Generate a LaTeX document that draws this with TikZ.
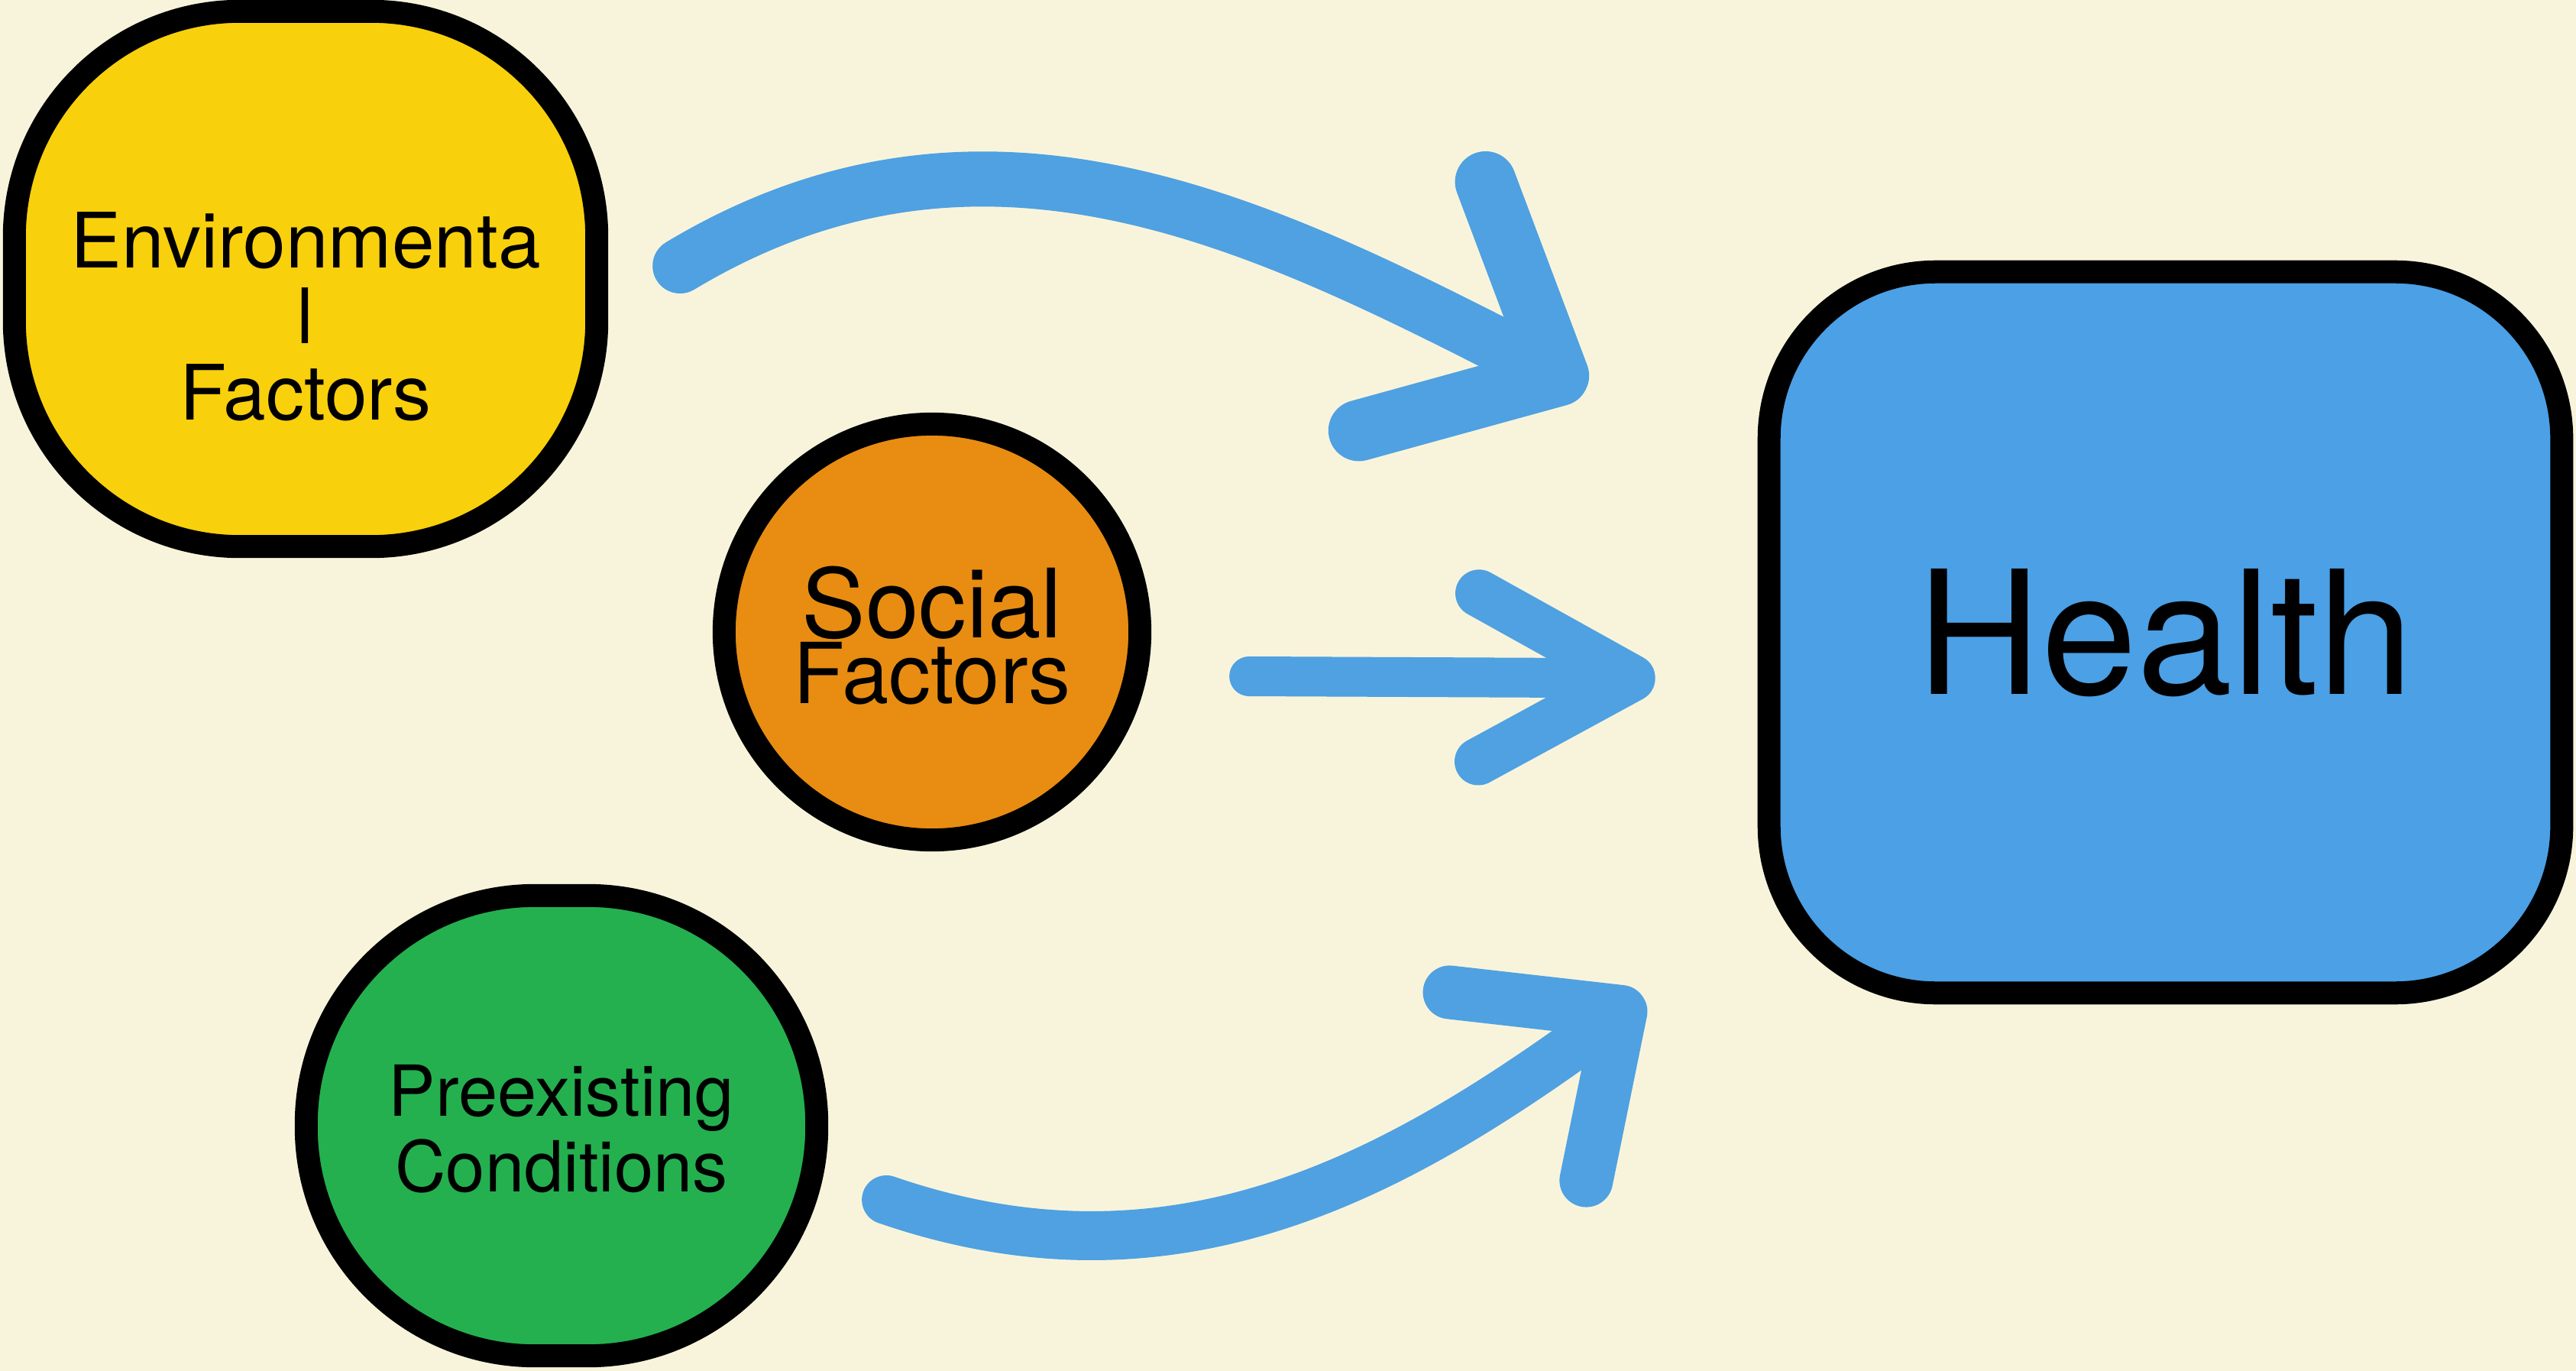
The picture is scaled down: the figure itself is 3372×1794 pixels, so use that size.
\documentclass[tikz,border=0pt]{standalone}
\usepackage{fontspec}
\setmainfont{TeX Gyre Heros}
\usetikzlibrary{arrows.meta}

\definecolor{paper}{HTML}{F8F4DC}
\definecolor{envyellow}{HTML}{F9D00C}
\definecolor{socorange}{HTML}{E88D12}
\definecolor{precgreen}{HTML}{24B04F}
\definecolor{healthblue}{HTML}{4BA0E6}
\definecolor{arrowblue}{HTML}{4FA1E1}

\tikzset{
  factor/.style={draw=black,line width=0.3cm,text=black,align=center,text depth=0cm},
  flow/.style={draw=arrowblue,line cap=round},
}

\begin{document}
\begin{tikzpicture}[x=0.01cm,y=-0.01cm]
  \fill [paper] (0,0) rectangle (3372,1794);
  \useasboundingbox (0,0) rectangle (3372,1794);

  % factors
  \node [factor,fill=envyellow,rounded corners=2.95cm,minimum width=7.62cm,minimum height=7cm,
         text height=3.68cm,font=\fontsize{28.45pt}{28.2pt}\selectfont]
        (env) at (400,365) {Environmenta\\l\\Factors};
  \node [factor,fill=socorange,circle,minimum size=5.44cm,text height=1.86cm]
        (social) at (1220,827) {\fontsize{35.6pt}{26.5pt}\selectfont Social\\
                                \fontsize{31.3pt}{26.5pt}\selectfont Factors};
  \node [factor,fill=precgreen,rounded corners=2.99cm,minimum width=6.68cm,minimum height=6.02cm,
         text height=1.72cm,font=\fontsize{26.2pt}{27.9pt}\selectfont]
        (precond) at (735,1473) {Preexisting\\Conditions};
  \node [factor,fill=healthblue,rounded corners=2.18cm,minimum width=10.37cm,minimum height=9.43cm,
         text height=1.61cm,font=\fontsize{64pt}{64pt}\selectfont]
        (health) at (2834.5,827.5) {Health};

  % arrows into health
  \draw [flow,line width=0.72cm,-{Straight Barb[length=2cm,width=3.65cm,line width=0.8cm,round]}]
        ([shift={(94,-17)}]env.east) to[out=31,in=153] ([shift={(-225,169)}]health.north west);
  \draw [flow,line width=0.52cm,-{Straight Barb[length=2cm,width=2.2cm,line width=0.62cm,round]}]
        ([shift={(128,58)}]social.east) -- ([shift={(-134,60)}]health.west);
  \draw [flow,line width=0.64cm,-{Straight Barb[length=1.66cm,width=3.04cm,line width=0.7cm,round]}]
        ([shift={(76,97)}]precond.east) to[out=-19,in=216] ([shift={(-151,-11)}]health.south west);
\end{tikzpicture}
\end{document}
